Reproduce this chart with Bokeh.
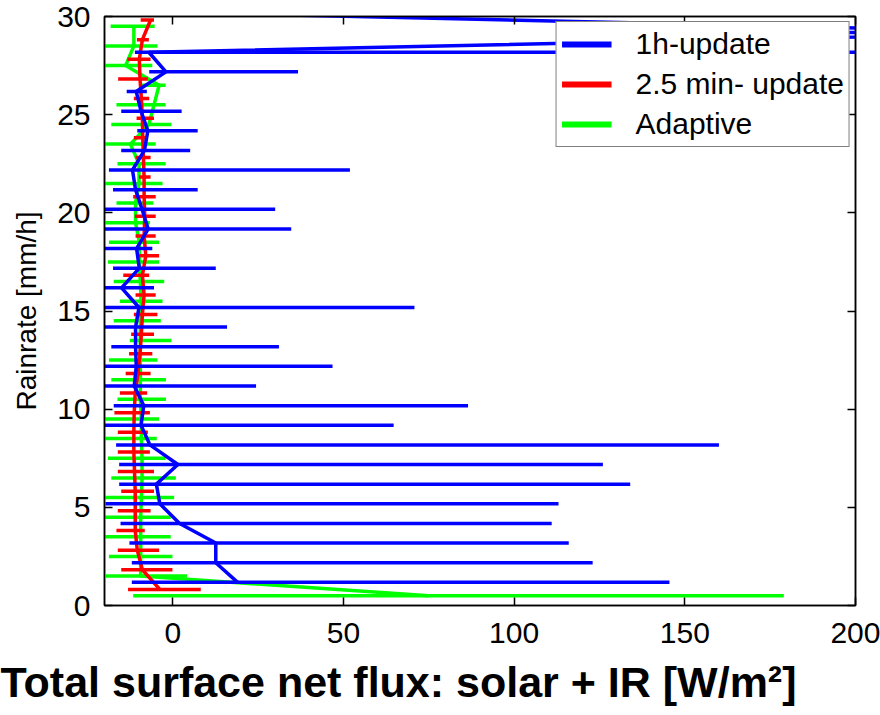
from bokeh.plotting import figure
from bokeh.models import (ColumnDataSource, FixedTicker, LinearAxis, Legend, LegendItem,
                          Title, CustomJSTickFormatter, Range1d)
from bokeh.embed import file_html
from bokeh.resources import INLINE

# ---------------- data ----------------
# 1h-update (blue)
rain_blue = [1.18, 2.18, 3.18, 4.18, 5.18, 6.18, 7.18, 8.18, 9.18, 10.18,
             11.18, 12.18, 13.18, 14.18, 15.18, 16.18, 17.18, 18.18, 19.18, 20.18,
             21.18, 22.18, 23.18, 24.18, 25.18, 26.18, 27.18, 28.18, 29.18, 30.18]
mean_blue = [19, 12.6, 12.6, 2, -3.8, -4.8, 1.5, -6.7, -9.3, -8.5,
             -11.3, -10.7, -10.9, -10.9, -9.9, -15, -9.8, -10.6, -7.2, -9,
             -10.9, -11.8, -8.3, -7.3, -9.3, -10.7, -2, -7, 260, 8]
low_blue = [-12, -12, -12.7, -15.3, -19.7, -15.7, -15.7, -16.6, -22, -17.3,
            -22, -22, -18, -20, -22, -22, -17.5, -20, -22, -20,
            -17.5, -18.7, -15.1, -10.4, -15.1, -13.5, -6.9, -11.1, 197, -5]
high_blue = [145.5, 123, 116, 111, 113, 134, 126, 160, 64.7, 86.5,
             24.4, 46.8, 31.1, 15.9, 70.8, -5.5, 12.6, -6, 34.7, 30,
             7.3, 51.9, 5.1, 7.3, 2.6, -7.6, 36.7, 240, 330, 60]

# 2.5 min- update (red)
rain_red = [0.82, 1.82, 2.82, 3.82, 4.82, 5.82, 6.82, 7.82, 8.82, 9.82,
            10.82, 11.82, 12.82, 13.82, 14.82, 15.82, 16.82, 17.82, 18.82, 19.82,
            20.82, 21.82, 22.82, 23.82, 24.82, 25.82, 26.82, 27.82, 28.82, 29.82]
mean_red = [-3.8, -8.9, -10.4, -11, -11, -11, -11.2, -11.4, -11.4, -11.3,
            -11, -10.2, -9.6, -9.2, -8.9, -8.4, -8.9, -7.9, -8.4, -8.2,
            -8.4, -8.4, -8.6, -8.8, -8.9, -9.2, -9.6, -9.8, -8.9, -6.5]
low_red = [-13.1, -15.1, -16.1, -16.5, -16.1, -15.1, -16.1, -16.1, -16.1, -17.1,
           -15.5, -13.8, -12.8, -12.2, -11.4, -10.9, -14.5, -9.9, -10.9, -11.1,
           -11.6, -9.9, -10.9, -11.4, -10.6, -11.4, -16, -13.3, -10.5, -9.4]
high_red = [8.2, -0.1, -4.0, -8.2, -6.5, -5.5, -5.5, -6.7, -7.3, -6.7,
            -7.5, -6.5, -6, -5.5, -4.5, -5, -6.9, -4, -5, -5,
            -5, -6.5, -6.5, -7.3, -5.5, -6.9, -7.3, -6.5, -7, -5.5]

# Adaptive (green)
rain_green = [0.5, 1.5, 2.5, 3.5, 4.5, 5.5, 6.5, 7.5, 8.5, 9.5,
              10.5, 11.5, 12.5, 13.5, 14.5, 15.5, 16.5, 17.5, 18.5, 19.5,
              20.5, 21.5, 22.5, 23.5, 24.5, 25.5, 26.5, 27.5, 28.5, 29.5]
mean_green = [75, -9.4, -9.4, -9.4, -9.4, -9.2, -9, -9, -9.2, -9.2,
              -9.5, -9.5, -9.5, -9.5, -9.5, -9.3, -9.5, -9.8, -9.8, -10.9,
              -10.9, -9.9, -9.9, -12.4, -7, -5.5, -4, -13.8, -11.4, -11.4]
low_green = [-11.6, -19.7, -18.7, -22, -22, -22, -18, -19, -22, -22,
             -16.2, -18, -18.7, -12.6, -17.3, -15.5, -17.3, -19, -18.7, -22,
             -16.5, -22, -16.2, -22, -18, -16.5, -9.9, -22, -22, -18.2]
high_green = [179, 4.2, -0.1, -0.6, -0.6, 0.4, 0.9, -2.1, -4.7, -4.0,
              -2, -2, -4.5, -0.4, -3.5, -3, -2.5, -4, -4, -6.7,
              -5.7, -3, -2.1, -5, -0.4, -2.1, -2.1, -6, -4.5, -5.3]

x_ticks = [0, 50, 100, 150, 200]
y_ticks = [0, 5, 10, 15, 20, 25, 30]
series_names = ["1h-update", "2.5 min- update", "Adaptive"]

FONT = "Liberation Sans"

p = figure(width=880, height=715, output_backend="svg", toolbar_location=None,
           x_range=Range1d(-20, 200), y_range=Range1d(0, 30),
           min_border_left=104, min_border_right=25, min_border_top=16,
           min_border_bottom=110)
p.background_fill_color = "white"
p.border_fill_color = "white"
p.outline_line_color = "black"
p.outline_line_width = 1.5
p.xgrid.visible = False
p.ygrid.visible = False

LW = 3.5
srcs = [
    ("#00ff00", rain_green, mean_green, low_green, high_green),
    ("#ff0000", rain_red, mean_red, low_red, high_red),
    ("#0000ff", rain_blue, mean_blue, low_blue, high_blue),
]
for color, r, m, lo, hi in srcs:
    src = ColumnDataSource(dict(rain=r, mean=m, lo=lo, hi=hi))
    p.segment(x0="lo", y0="rain", x1="hi", y1="rain", source=src,
              line_color=color, line_width=LW)
    p.line(x="mean", y="rain", source=src, line_color=color, line_width=LW)

# legend-only renderers (thicker sample lines), placed outside the visible range
legend_r = {}
for color in ("#0000ff", "#ff0000", "#00ff00"):
    legend_r[color] = p.line(x=[-60, -50], y=[-10, -10], line_color=color, line_width=6)

# axes
for ax in (p.xaxis[0], p.yaxis[0]):
    ax.major_tick_in = 8
    ax.major_tick_out = 0
    ax.minor_tick_line_color = None
    ax.axis_line_width = 1.5
    ax.major_tick_line_width = 1.5
    ax.major_label_text_font = FONT
    ax.major_label_text_font_size = "30px"
    ax.major_label_text_color = "black"
p.xaxis.ticker = FixedTicker(ticks=x_ticks)
p.yaxis.ticker = FixedTicker(ticks=y_ticks)
p.xaxis.major_label_standoff = 17
p.yaxis.major_label_standoff = 14
p.yaxis.axis_label = "Rainrate [mm/h]"
p.yaxis.axis_label_text_font = FONT
p.yaxis.axis_label_text_font_style = "normal"
p.yaxis.axis_label_text_font_size = "28px"
p.yaxis.axis_label_text_color = "black"
p.yaxis.axis_label_standoff = 12

blank = CustomJSTickFormatter(code="return ''")
top_ax = LinearAxis(ticker=FixedTicker(ticks=x_ticks), formatter=blank,
                    major_tick_in=8, major_tick_out=0, minor_tick_line_color=None,
                    axis_line_width=1.5, major_tick_line_width=1.5, major_label_standoff=0)
right_ax = LinearAxis(ticker=FixedTicker(ticks=y_ticks), formatter=blank,
                      major_tick_in=8, major_tick_out=0, minor_tick_line_color=None,
                      axis_line_width=1.5, major_tick_line_width=1.5, major_label_standoff=0)
p.add_layout(top_ax, "above")
p.add_layout(right_ax, "right")

# legend
legend = Legend(items=[
    LegendItem(label=series_names[0], renderers=[legend_r["#0000ff"]]),
    LegendItem(label=series_names[1], renderers=[legend_r["#ff0000"]]),
    LegendItem(label=series_names[2], renderers=[legend_r["#00ff00"]]),
], location="top_right")
legend.margin = 5
legend.padding = 5
legend.spacing = 6
legend.glyph_width = 50
legend.glyph_height = 20
legend.label_standoff = 24
legend.label_text_font = FONT
legend.label_text_font_size = "30px"
legend.label_text_color = "black"
legend.border_line_color = "black"
legend.border_line_width = 1.5
legend.background_fill_alpha = 1.0
p.add_layout(legend, "center")

title = Title(text="Total surface net flux: solar + IR [W/m\u00b2]", align="left",
              offset=-104, text_font=FONT, text_font_style="bold",
              text_font_size="43px", text_color="black", standoff=20)
p.add_layout(title, "below")

open("out.html", "w").write(file_html(p, INLINE))
